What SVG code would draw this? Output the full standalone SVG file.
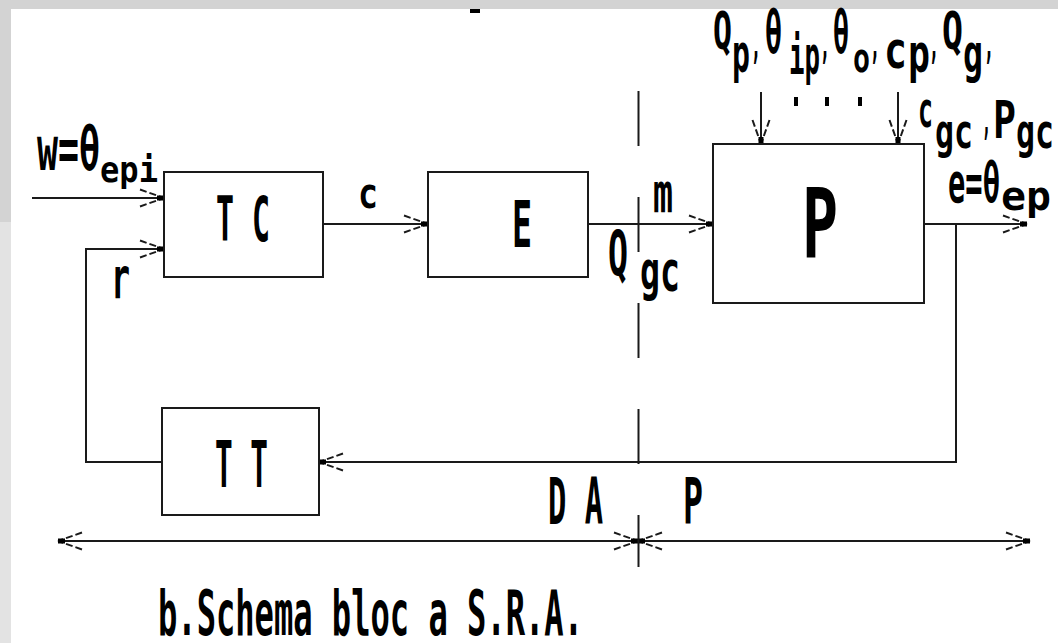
<svg xmlns="http://www.w3.org/2000/svg" width="1058" height="643" viewBox="0 0 1058 643">
<defs>
<style>
.box{fill:#fff;stroke:#1a1a1a;stroke-width:2}
.ln{fill:none;stroke:#1a1a1a;stroke-width:2}
.t{font-family:"DejaVu Sans Mono","Liberation Mono",monospace;font-weight:bold;fill:#000}
</style>
<marker id="ah" markerUnits="userSpaceOnUse" viewBox="0 0 26 20" markerWidth="26" markerHeight="20" refX="25" refY="10" orient="auto-start-reverse">
<path d="M1,1.5 L25,10 M1,18.5 L25,10" fill="none" stroke="#1a1a1a" stroke-width="2" stroke-dasharray="7 3"/>
<rect x="18" y="7.5" width="7" height="5" fill="#000"/>
</marker>
</defs>
<rect x="0" y="0" width="1058" height="643" fill="#fff"/>
<rect x="0" y="0" width="1058" height="9" fill="#d3d3d3"/>
<rect x="0" y="9" width="11" height="213" fill="#d3d3d3"/>
<rect x="0" y="222" width="11" height="421" fill="#e3e3e3"/>
<rect x="470" y="9" width="10" height="4" fill="#000"/>

<g id="connectors">
<path class="ln" d="M32,198 H164" marker-end="url(#ah)"/>
<path class="ln" d="M323,224 H428" marker-end="url(#ah)"/>
<path class="ln" d="M588,224 H713" marker-end="url(#ah)"/>
<path class="ln" d="M924,224 H1027" marker-end="url(#ah)"/>
<path class="ln" d="M761,92 V144" marker-end="url(#ah)"/>
<path class="ln" d="M898,92 V144" marker-end="url(#ah)"/>
<path class="ln" d="M956,224 V462 H319" marker-end="url(#ah)"/>
<path class="ln" d="M162,462 H86 V249 H164" marker-end="url(#ah)"/>
<path class="ln" d="M58,541 H638" marker-start="url(#ah)" marker-end="url(#ah)"/>
<path class="ln" d="M638,541 H1030" marker-start="url(#ah)" marker-end="url(#ah)"/>
<path d="M638.5,91 V567" fill="none" stroke="#1a1a1a" stroke-width="2" stroke-dasharray="55 51"/>
<rect x="794" y="97" width="4" height="9" fill="#000"/>
<rect x="825" y="97" width="4" height="9" fill="#000"/>
<rect x="858" y="97" width="4" height="9" fill="#000"/>
</g>

<g id="TC">
<rect class="box" x="164" y="172" width="159" height="105"/>
<text class="t" x="216" y="241" font-size="63" textLength="54" lengthAdjust="spacingAndGlyphs">T C</text>
</g>
<g id="E">
<rect class="box" x="428" y="172" width="160" height="105"/>
<text class="t" x="512" y="247" font-size="64" textLength="20" lengthAdjust="spacingAndGlyphs">E</text>
</g>
<g id="P">
<rect class="box" x="713" y="144" width="211" height="159"/>
<text class="t" x="802" y="257" font-size="96" textLength="36" lengthAdjust="spacingAndGlyphs">P</text>
</g>
<g id="TT">
<rect class="box" x="162" y="408" width="157" height="107"/>
<text class="t" x="215" y="487" font-size="64" textLength="53" lengthAdjust="spacingAndGlyphs">T T</text>
</g>

<g id="labels">
<text class="t"><tspan x="37" y="170" font-size="60" textLength="63" lengthAdjust="spacingAndGlyphs">w=θ</tspan><tspan x="100" y="182" font-size="36" textLength="58" lengthAdjust="spacingAndGlyphs">epi</tspan></text>
<text class="t" x="111" y="298" font-size="57" textLength="19" lengthAdjust="spacingAndGlyphs">r</text>
<text class="t" x="358" y="208" font-size="42" textLength="20" lengthAdjust="spacingAndGlyphs">c</text>
<text class="t" x="653" y="212" font-size="55" textLength="20" lengthAdjust="spacingAndGlyphs">m</text>
<text class="t"><tspan x="608" y="275" font-size="62" textLength="20" lengthAdjust="spacingAndGlyphs">Q</tspan><tspan x="640" y="290" font-size="55" textLength="40" lengthAdjust="spacingAndGlyphs">gc</tspan></text>

<text class="t"><tspan x="713" y="49" font-size="52" textLength="19" lengthAdjust="spacingAndGlyphs">Q</tspan><tspan x="732" y="72" font-size="53" textLength="18" lengthAdjust="spacingAndGlyphs">p</tspan><tspan x="751" y="58" font-size="40" textLength="10" lengthAdjust="spacingAndGlyphs">,</tspan><tspan x="765" y="53" font-size="58" textLength="17" lengthAdjust="spacingAndGlyphs">θ</tspan><tspan x="789" y="74" font-size="53" textLength="31" lengthAdjust="spacingAndGlyphs">ip</tspan><tspan x="820" y="58" font-size="40" textLength="10" lengthAdjust="spacingAndGlyphs">,</tspan><tspan x="833" y="53" font-size="58" textLength="16" lengthAdjust="spacingAndGlyphs">θ</tspan><tspan x="853" y="72" font-size="40" textLength="17" lengthAdjust="spacingAndGlyphs">o</tspan><tspan x="870" y="58" font-size="40" textLength="10" lengthAdjust="spacingAndGlyphs">,</tspan><tspan x="884" y="68" font-size="52" textLength="23" lengthAdjust="spacingAndGlyphs">c</tspan><tspan x="908" y="72" font-size="53" textLength="22" lengthAdjust="spacingAndGlyphs">p</tspan><tspan x="929" y="58" font-size="40" textLength="10" lengthAdjust="spacingAndGlyphs">,</tspan><tspan x="942" y="49" font-size="52" textLength="21" lengthAdjust="spacingAndGlyphs">Q</tspan><tspan x="963" y="72" font-size="53" textLength="20" lengthAdjust="spacingAndGlyphs">g</tspan><tspan x="984" y="58" font-size="40" textLength="10" lengthAdjust="spacingAndGlyphs">,</tspan></text>

<text class="t"><tspan x="918" y="127" font-size="50" textLength="15" lengthAdjust="spacingAndGlyphs">c</tspan><tspan x="935" y="148" font-size="48" textLength="38" lengthAdjust="spacingAndGlyphs">gc</tspan><tspan x="982" y="134" font-size="40" textLength="9" lengthAdjust="spacingAndGlyphs">,</tspan><tspan x="993" y="138" font-size="52" textLength="23" lengthAdjust="spacingAndGlyphs">P</tspan><tspan x="1016" y="148" font-size="48" textLength="38" lengthAdjust="spacingAndGlyphs">gc</tspan></text>

<text class="t"><tspan x="948" y="202" font-size="56" textLength="52" lengthAdjust="spacingAndGlyphs">e=θ</tspan><tspan x="1001" y="210" font-size="40" textLength="50" lengthAdjust="spacingAndGlyphs">ep</tspan></text>

<text class="t" x="548" y="524" font-size="64" textLength="55" lengthAdjust="spacingAndGlyphs">D A</text>
<text class="t" x="683" y="524" font-size="64" textLength="20" lengthAdjust="spacingAndGlyphs">P</text>
<text class="t" x="158" y="635" font-size="63" textLength="425" lengthAdjust="spacingAndGlyphs">b.Schema bloc a S.R.A.</text>
</g>
</svg>
